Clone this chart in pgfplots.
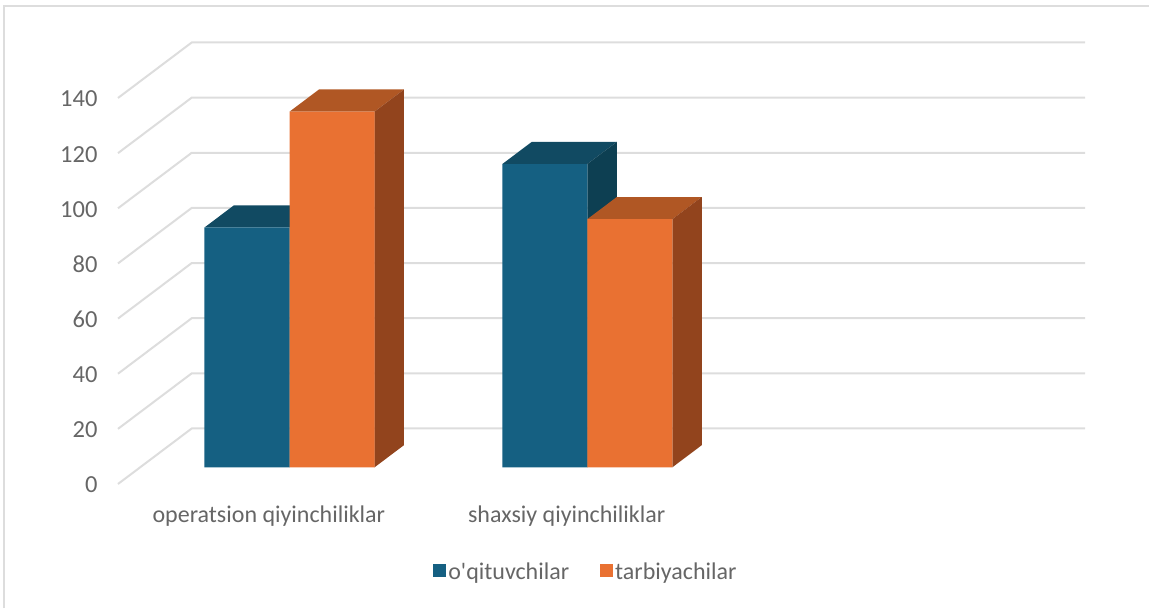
\documentclass[border=0pt]{standalone}
\usepackage{fontspec}
\usepackage{pgfplots}
\pgfplotsset{compat=1.18}
\newfontfamily\chartfont{Carlito}

\definecolor{blueFront}{HTML}{156082}
\definecolor{blueTop}{HTML}{114A62}
\definecolor{blueSide}{HTML}{0D3F52}
\definecolor{orangeFront}{HTML}{E97132}
\definecolor{orangeTop}{HTML}{B05724}
\definecolor{orangeSide}{HTML}{92441D}
\definecolor{gridGray}{HTML}{DDDDDD}
\definecolor{labelGray}{HTML}{666666}

\begin{document}
\begin{tikzpicture}[x=1pt,y=1pt]
\path[use as bounding box] (-118,-124) rectangle (1031,484);
\draw[gridGray, line width=2pt] (-114,-124) -- (-114,478) -- (1031,478);
\begin{axis}[
    scale only axis,
    width=893.4pt, height=386pt,
    xmin=-0.5, xmax=2.5,
    ymin=0, ymax=140,
    clip=false,
    axis line style={draw=none},
    major tick length=0pt,
    xtick={0,1},
    xticklabels={operatsion qiyinchiliklar, shaxsiy qiyinchiliklar},
    ytick={0,20,...,140},
    xticklabel style={font=\chartfont\fontsize{24}{28}\selectfont, text=labelGray, xshift=2pt, yshift=-18pt},
    yticklabel style={font=\chartfont\fontsize{24.5}{28}\selectfont, text=labelGray, xshift=-17pt, yshift=-1pt,
        /pgf/number format/assume math mode=true},
    legend style={at={(0.5238,-0.228)}, anchor=center, draw=none, fill=none,
        legend columns=2, font=\chartfont\fontsize{24}{28}\selectfont, text=labelGray,
        /tikz/every even column/.append style={column sep=29pt}},
    legend cell align=left,
    legend image code/.code={\fill[#1] (-3pt,-21.5pt) rectangle (10pt,-8.5pt);},
    ]

% back wall and side wall lines
\addplot[gridGray, line width=2pt, forget plot] coordinates {(-0.5,0) (-0.2525,20.13) (2.7475,20.13)};
\addplot[gridGray, line width=2pt, forget plot] coordinates {(-0.5,20) (-0.2525,40.13) (2.7475,40.13)};
\addplot[gridGray, line width=2pt, forget plot] coordinates {(-0.5,40) (-0.2525,60.13) (2.7475,60.13)};
\addplot[gridGray, line width=2pt, forget plot] coordinates {(-0.5,60) (-0.2525,80.13) (2.7475,80.13)};
\addplot[gridGray, line width=2pt, forget plot] coordinates {(-0.5,80) (-0.2525,100.13) (2.7475,100.13)};
\addplot[gridGray, line width=2pt, forget plot] coordinates {(-0.5,100) (-0.2525,120.13) (2.7475,120.13)};
\addplot[gridGray, line width=2pt, forget plot] coordinates {(-0.5,120) (-0.2525,140.13) (2.7475,140.13)};
\addplot[gridGray, line width=2pt, forget plot] coordinates {(-0.5,140) (-0.2525,160.13) (2.7475,160.13)};

% blue series: tops and sides, then fronts
\addplot[draw=none, fill=blueTop, forget plot, xshift=22.6pt, yshift=16.65pt] coordinates {(-0.2854,87) (0,87) (0.099,95.05) (-0.1864,95.05)};
\addplot[draw=none, fill=blueSide, forget plot, xshift=22.6pt, yshift=16.65pt] coordinates {(0,0) (0,87) (0.099,95.05) (0.099,8.05)};
\addplot[draw=none, fill=blueTop, forget plot, xshift=22.6pt, yshift=16.65pt] coordinates {(0.7146,110) (1,110) (1.099,118.05) (0.8136,118.05)};
\addplot[draw=none, fill=blueSide, forget plot, xshift=22.6pt, yshift=16.65pt] coordinates {(1,0) (1,110) (1.099,118.05) (1.099,8.05)};
\addplot[ybar, bar width=85pt, bar shift=-42.5pt, draw=none, fill=blueFront, xshift=22.6pt, yshift=16.65pt]
    coordinates {(0,87) (1,110)};

% orange series
\addplot[draw=none, fill=orangeTop, forget plot, xshift=22.6pt, yshift=16.65pt] coordinates {(0,129) (0.2854,129) (0.3844,137.05) (0.099,137.05)};
\addplot[draw=none, fill=orangeSide, forget plot, xshift=22.6pt, yshift=16.65pt] coordinates {(0.2854,0) (0.2854,129) (0.3844,137.05) (0.3844,8.05)};
\addplot[draw=none, fill=orangeTop, forget plot, xshift=22.6pt, yshift=16.65pt] coordinates {(1,90) (1.2854,90) (1.3844,98.05) (1.099,98.05)};
\addplot[draw=none, fill=orangeSide, forget plot, xshift=22.6pt, yshift=16.65pt] coordinates {(1.2854,0) (1.2854,90) (1.3844,98.05) (1.3844,8.05)};
\addplot[ybar, bar width=85pt, bar shift=42.5pt, draw=none, fill=orangeFront, xshift=22.6pt, yshift=16.65pt]
    coordinates {(0,129) (1,90)};

\legend{o'qituvchilar, tarbiyachilar}
\end{axis}
\end{tikzpicture}
\end{document}
